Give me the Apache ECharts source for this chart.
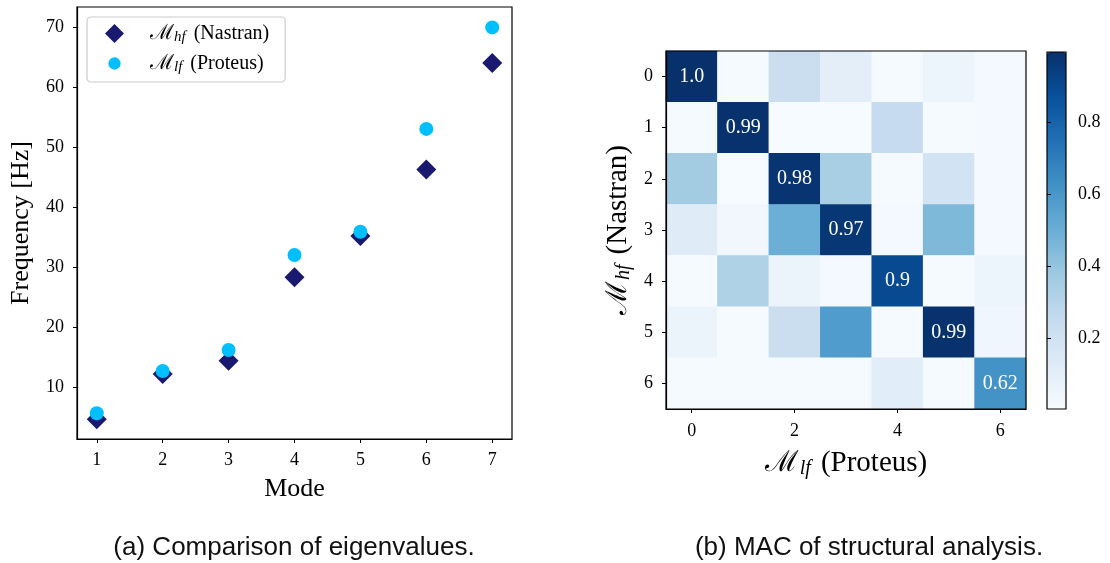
<!DOCTYPE html>
<html>
<head>
<meta charset="utf-8">
<script src="https://cdn.jsdelivr.net/npm/echarts@6/dist/echarts.min.js"></script>
<style>
html,body{margin:0;padding:0;background:#fff;}
#chart{width:1110px;height:563px;}
</style>
</head>
<body>
<div id="chart"></div>
<script>
// ---- data ----
const modes = [1, 2, 3, 4, 5, 6, 7];
const freqNastran = [4.74, 12.28, 14.5, 28.38, 35.25, 46.36, 64.07];
const freqProteus = [5.74, 12.78, 16.27, 32.1, 35.97, 53.1, 70.0];
const xTicks = [1, 2, 3, 4, 5, 6, 7];
const yTicks = [10, 20, 30, 40, 50, 60, 70];

const macModes = ['0', '1', '2', '3', '4', '5', '6'];
const macXTickLabels = ['0', '2', '4', '6'];
const macRow0 = [0.997, 0.01, 0.23, 0.10, 0.01, 0.05, 0.02];
const macRow1 = [0.01, 0.99, 0.005, 0.005, 0.25, 0.01, 0.02];
const macRow2 = [0.36, 0.005, 0.98, 0.34, 0.01, 0.19, 0.02];
const macRow3 = [0.12, 0.03, 0.50, 0.97, 0.02, 0.45, 0.02];
const macRow4 = [0.01, 0.32, 0.06, 0.02, 0.90, 0.01, 0.05];
const macRow5 = [0.06, 0.01, 0.23, 0.58, 0.01, 0.99, 0.04];
const macRow6 = [0.01, 0.01, 0.01, 0.01, 0.11, 0.01, 0.62];
const colorbarTicks = [0.2, 0.4, 0.6, 0.8];
const colorMin = 0.002, colorMax = 0.997;

const captionA = '(a) Comparison of eigenvalues.';
const captionB = '(b) MAC of structural analysis.';

// ---- build ----
const macRows = [macRow0, macRow1, macRow2, macRow3, macRow4, macRow5, macRow6];
const heatData = [];
macRows.forEach((row, i) => row.forEach((v, j) => heatData.push([j, i, v])));
const nastranData = modes.map((m, i) => [m, freqNastran[i]]);
const proteusData = modes.map((m, i) => [m, freqProteus[i]]);

const blues = ['#f7fbff', '#deebf7', '#c6dbef', '#9ecae1', '#6baed6', '#4292c6', '#2171b5', '#08519c', '#08306b'];
const serif = 'Liberation Serif';
const sans = 'Liberation Sans';

function pyRound(v) {
  let s = String(Math.round(v * 100) / 100);
  if (s.indexOf('.') < 0) s += '.0';
  return s;
}

const legendRich = {
  m: { fontFamily: 'DejaVu Serif', fontSize: 21, color: '#000', lineHeight: 24 },
  s: { fontFamily: serif, fontStyle: 'italic', fontSize: 15, color: '#000', padding: [8, 8, 0, 0], lineHeight: 24 },
  t: { fontFamily: serif, fontSize: 20, color: '#000', lineHeight: 24 }
};
const leftNameStyle = { fontFamily: serif, fontSize: 26, color: '#000' };
const axisNameRich = {
  m: { fontFamily: 'DejaVu Serif', fontSize: 29, color: '#000' },
  s: { fontFamily: serif, fontStyle: 'italic', fontSize: 20, color: '#000', padding: [11, 10, 0, 1] },
  t: { fontFamily: serif, fontSize: 29, color: '#000' }
};

const chart = echarts.init(document.getElementById('chart'), null, { renderer: 'canvas' });

const tickLabel = { color: '#000', fontFamily: serif, fontSize: 18 };
const smallCircle = 'path://M0 0M20 20M3.5 10A6.5 6.5 0 1 1 16.5 10A6.5 6.5 0 1 1 3.5 10Z';

chart.setOption({
  animation: false,
  backgroundColor: '#fff',
  title: [
    { text: captionA, left: 289, top: 530, textAlign: 'center',
      textStyle: { fontFamily: sans, fontSize: 26, fontWeight: 'normal', color: '#111' } },
    { text: captionB, left: 864, top: 530, textAlign: 'center',
      textStyle: { fontFamily: sans, fontSize: 26, fontWeight: 'normal', color: '#111' } }
  ],
  legend: {
    left: 87, top: 17,
    orient: 'vertical',
    padding: [5, 16, 7, 18],
    itemGap: 7,
    itemWidth: 19, itemHeight: 19,
    borderColor: '#ccc', borderWidth: 1.2, borderRadius: 4,
    backgroundColor: 'rgba(255,255,255,0.8)',
    data: [{ name: 'hf', icon: 'diamond' }, { name: 'lf', icon: smallCircle }],
    formatter: function (name) {
      return name === 'hf' ? '{m|ℳ}{s|hf}{t|(Nastran)}' : '{m|ℳ}{s|lf}{t|(Proteus)}';
    },
    textStyle: { padding: [0, 0, 0, 21], rich: legendRich }
  },
  grid: [
    { left: 77, top: 7, width: 435, height: 432, show: true, borderColor: '#000', borderWidth: 1.2, z: 10 },
    { left: 666, top: 51, width: 360, height: 358, show: true, borderColor: '#000', borderWidth: 1.2, z: 10, backgroundColor: 'transparent' },
    { left: 1047, top: 52, width: 19, height: 357, show: true, borderColor: '#000', borderWidth: 1.2, z: 10, backgroundColor: 'transparent' }
  ],
  xAxis: [
    { gridIndex: 0, type: 'value', min: 0.7, max: 7.3,
      splitLine: { show: false },
      axisLine: { show: true, lineStyle: { color: '#000', width: 1.2 } },
      axisTick: { show: true, length: 4, lineStyle: { color: '#000' }, customValues: xTicks },
      axisLabel: Object.assign({ margin: 12, customValues: xTicks }, tickLabel),
      name: 'Mode', nameLocation: 'middle', nameGap: 37,
      nameTextStyle: leftNameStyle },
    { gridIndex: 1, type: 'category', data: macModes, z: 10,
      splitLine: { show: false },
      axisLine: { show: true, lineStyle: { color: '#000', width: 1.2 } },
      axisTick: { show: true, length: 4, alignWithLabel: true, lineStyle: { color: '#000' },
        customValues: macXTickLabels.map(Number) },
      axisLabel: Object.assign({ margin: 13, customValues: macXTickLabels.map(Number) }, tickLabel),
      name: '{m|ℳ}{s|lf}{t|(Proteus)}', nameLocation: 'middle', nameGap: 39,
      nameTextStyle: { rich: axisNameRich } },
    { gridIndex: 2, type: 'value', min: 0, max: 1, show: false }
  ],
  yAxis: [
    { gridIndex: 0, type: 'value', min: 1.46, max: 73.4,
      splitLine: { show: false },
      axisLine: { show: true, lineStyle: { color: '#000', width: 1.2 } },
      axisTick: { show: true, length: 4, lineStyle: { color: '#000' }, customValues: yTicks },
      axisLabel: Object.assign({ margin: 13, customValues: yTicks }, tickLabel),
      name: 'Frequency [Hz]', nameLocation: 'middle', nameGap: 43, nameRotate: 90,
      nameTextStyle: leftNameStyle },
    { gridIndex: 1, type: 'category', data: macModes, inverse: true, z: 10,
      splitLine: { show: false },
      axisLine: { show: true, lineStyle: { color: '#000', width: 1.2 } },
      axisTick: { show: true, length: 4, alignWithLabel: true, lineStyle: { color: '#000' } },
      axisLabel: Object.assign({ margin: 13, interval: 0 }, tickLabel),
      name: '{m|ℳ}{s|hf}{t|(Nastran)}', nameLocation: 'middle', nameGap: 32, nameRotate: 90,
      nameTextStyle: { rich: axisNameRich } },
    { gridIndex: 2, type: 'value', min: colorMin, max: colorMax, position: 'right', z: 10,
      splitLine: { show: false },
      axisLine: { show: false },
      axisTick: { show: true, length: 4, lineStyle: { color: '#000' }, customValues: colorbarTicks },
      axisLabel: Object.assign({ margin: 12, customValues: colorbarTicks }, tickLabel) }
  ],
  visualMap: {
    type: 'continuous',
    seriesIndex: 2,
    min: colorMin, max: colorMax,
    calculable: false,
    hoverLink: false,
    left: 1047, top: 52,
    itemWidth: 19, itemHeight: 357,
    padding: 0,
    text: null,
    inRange: { color: blues }
  },
  series: [
    { name: 'hf', type: 'scatter', xAxisIndex: 0, yAxisIndex: 0, data: nastranData,
      symbol: 'diamond', symbolSize: 20, itemStyle: { color: '#191970', opacity: 1 }, z: 3 },
    { name: 'lf', type: 'scatter', xAxisIndex: 0, yAxisIndex: 0, data: proteusData,
      symbol: 'circle', symbolSize: 14, itemStyle: { color: '#00bfff', opacity: 1 }, z: 4 },
    { name: 'MAC', type: 'heatmap', xAxisIndex: 1, yAxisIndex: 1, data: heatData, z: 2,
      itemStyle: { borderWidth: 0 },
      label: {
        show: true,
        color: '#fff', fontFamily: serif, fontSize: 20,
        formatter: function (p) { return p.value[0] === p.value[1] ? pyRound(p.value[2]) : ''; }
      },
      emphasis: { disabled: true } }
  ]
});
</script>
</body>
</html>
